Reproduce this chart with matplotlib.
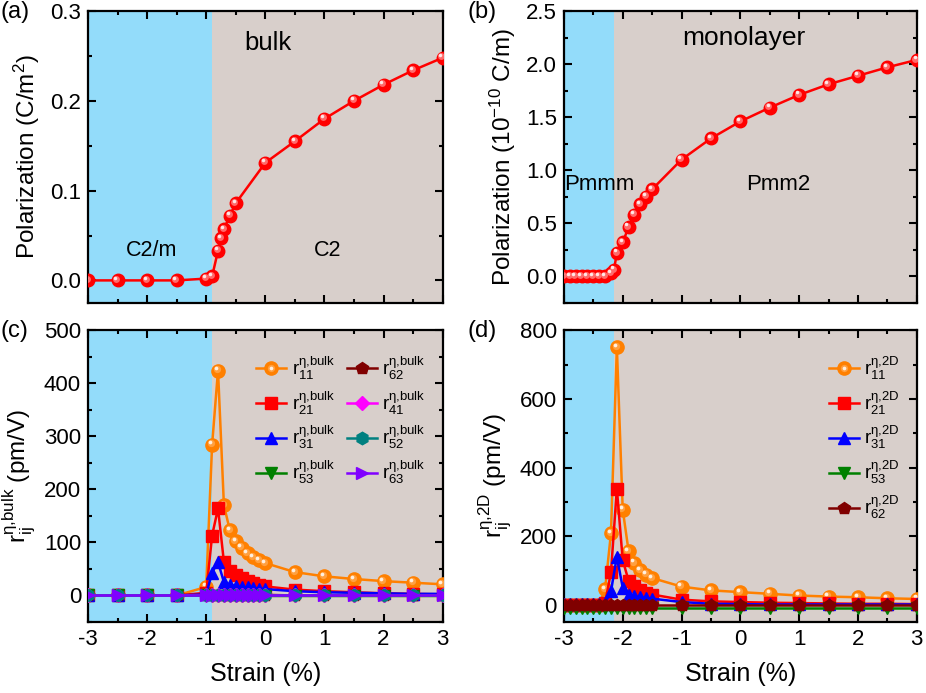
import numpy as np
from matplotlib import pyplot as plt
from matplotlib.transforms import offset_copy
from matplotlib.legend_handler import HandlerTuple
from matplotlib.ticker import MultipleLocator

plt.rcParams['font.family'] = ['Liberation Sans', 'DejaVu Sans']
plt.rcParams['mathtext.fontset'] = 'custom'
plt.rcParams['mathtext.rm'] = 'Liberation Sans'
plt.rcParams['mathtext.it'] = 'Liberation Sans:italic'
plt.rcParams['mathtext.default'] = 'regular'
plt.rcParams['axes.unicode_minus'] = False

# (a) bulk polarization
xa = [-3, -2.5, -2, -1.5, -1, -0.9, -0.8, -0.75, -0.7, -0.6, -0.5, 0, 0.5, 1, 1.5, 2, 2.5, 3]
pa = [0, 0, 0, 0, 0.002, 0.0045, 0.033, 0.047, 0.057, 0.072, 0.086, 0.131, 0.155, 0.18, 0.2, 0.218, 0.234, 0.248]

# (b) monolayer polarization
xb = [-3, -2.9, -2.8, -2.7, -2.6, -2.5, -2.4, -2.3, -2.2, -2.15, -2.1, -2.0, -1.9, -1.8, -1.7, -1.6, -1.5,
      -1, -0.5, 0, 0.5, 1, 1.5, 2, 2.5, 3]
pb = [0, 0, 0, 0, 0, 0, 0, 0, 0.03, 0.06, 0.22, 0.32, 0.465, 0.58, 0.68, 0.75, 0.82,
      1.1, 1.3, 1.46, 1.59, 1.71, 1.81, 1.89, 1.97, 2.04]

# (c) bulk r coefficients
xc = [-3, -2.5, -2, -1.5, -1, -0.9, -0.8, -0.7, -0.6, -0.5, -0.4, -0.3, -0.2, -0.1, 0, 0.5, 1, 1.5, 2, 2.5, 3]
c11 = [0, 0, 0, 0, 16, 284, 424, 170, 123, 102, 90, 80, 72, 66, 61, 44, 36, 31, 27, 24, 21]
c21 = [0, 0, 0, 0, 5, 113, 164, 63, 47, 38, 32, 27, 23, 20, 17, 11, 8, 6, 4, 3, 2]
c31 = [0, 0, 0, 0, 2, 43, 63, 25, 20, 18, 16, 15, 14, 13, 12, 8, 6, 5, 4, 3, 3]
c53 = [0, 0, 0, 0, 0, -1, -1, -1, -1, -1, -1, -1, -1, -1, -1, -1, -1, -1, -1, -1, -1]
c62 = [0, 0, 0, 0, 0, 1, 1, 1, 1, 1, 1, 1, 1, 1, 1, 0, 0, 0, 0, 0, 0]
c41 = [0, 0, 0, 0, 0, 0, 0, 0, 0, 0, 0, 0, 0, 0, 0, 0, 0, 0, 0, 0, 0]
c52 = [0, 0, 0, 0, 0, 0, 0, 0, 0, 0, 0, 0, 0, 0, 0, 0, 0, 0, 0, 0, 0]
c63 = [0, 0, 0, 0, 0, 0, 0, 0, 0, 0, 0, 0, 0, 0, 0, 0, 0, 0, 0, 0, 0]

# (d) 2D r coefficients
xd = [-3, -2.9, -2.8, -2.7, -2.6, -2.5, -2.4, -2.3, -2.2, -2.1, -2.0, -1.9, -1.8, -1.7, -1.6, -1.5,
      -1, -0.5, 0, 0.5, 1, 1.5, 2, 2.5, 3]
d11 = [0, 0, 0, 0, 0, 0, 0, 46, 209, 750, 277, 156, 122, 101, 88, 78, 53, 42, 37, 32, 27, 24, 22, 19, 17]
d21 = [0, 0, 0, 0, 0, 0, 0, 5, 95, 338, 130, 70, 55, 42, 35, 30, 15, 10, 8, 6, 5, 4, 3, 3, 2]
d31 = [3, 3, 3, 3, 3, 3, 3, 5, 40, 140, 50, 30, 25, 22, 20, 18, 8, 3, 2, 1, 1, 1, 1, 1, 1]
d53 = [-8, -8, -8, -8, -8, -8, -8, -8, -8, -8, -8, -8, -8, -8, -8, -8, -8, -8, -8, -8, -8, -8, -8, -8, -8]
d62 = [0, 0, 0, 0, 0, 0, 0, 0, 0, 0, 0, 0, 0, 0, 0, 0, 0, 0, 0, 0, 0, 0, 0, 0, 0]

blue_bg = '#93DCFA'
gray_bg = '#D8CFCB'
fig = plt.figure(figsize=(9.26, 6.93), dpi=100)


def style(ax, ymaj, ymin, xlabels):
    ax.set_xlim(-3, 3)
    ax.xaxis.set_major_locator(MultipleLocator(1))
    ax.xaxis.set_minor_locator(MultipleLocator(0.5))
    ax.yaxis.set_major_locator(MultipleLocator(ymaj))
    ax.yaxis.set_minor_locator(MultipleLocator(ymin))
    ax.tick_params(which='both', direction='in', top=True, right=True, width=1.5, labelsize=16, pad=5)
    ax.tick_params(which='major', length=5.5)
    ax.tick_params(which='minor', length=3)
    for s in ax.spines.values():
        s.set_linewidth(1.6)
    if not xlabels:
        ax.tick_params(labelbottom=False)
    else:
        ax.set_xlabel('Strain (%)', fontsize=18, labelpad=9)


def bg(ax, xb_):
    ax.axvspan(-3, xb_, color=blue_bg, lw=0, zorder=0)
    ax.axvspan(xb_, 3, color=gray_bg, lw=0, zorder=0)


def ball(ax, x, y, color, mid, hl, ms=9, zorder=3):
    ln, = ax.plot(x, y, '-o', color=color, mec=color, ms=ms, lw=1.8, zorder=zorder)
    tr1 = offset_copy(ax.transData, fig=fig, x=-0.9, y=1.0, units='points')
    tr2 = offset_copy(ax.transData, fig=fig, x=-1.6, y=1.8, units='points')
    m, = ax.plot(x, y, 'o', color=mid, mec='none', ms=ms * 0.55, transform=tr1, zorder=zorder + 0.1)
    h, = ax.plot(x, y, 'o', color=hl, mec='none', ms=ms * 0.28, transform=tr2, zorder=zorder + 0.2)
    return (ln, m, h)


# (a)
ax1 = fig.add_axes((0.095, 0.563, 0.383, 0.421))
bg(ax1, -0.9)
ball(ax1, xa, pa, '#FF0000', '#FF6A6A', '#FFE6E6')
ax1.set_ylim(-0.025, 0.3)
style(ax1, 0.1, 0.05, False)
ax1.yaxis.set_major_formatter(plt.FormatStrFormatter('%.1f'))
ax1.set_ylabel('Polarization (C/m$^2$)', fontsize=17.5, labelpad=6)
ax1.text(0.04, 0.265, 'bulk', fontsize=18.5, ha='center', va='center')
ax1.text(-1.92, 0.0334, 'C2/m', fontsize=15.5, ha='center', va='center')
ax1.text(1.06, 0.0334, 'C2', fontsize=15.5, ha='center', va='center')

# (b)
ax2 = fig.add_axes((0.609, 0.563, 0.381, 0.421))
bg(ax2, -2.15)
ball(ax2, xb, pb, '#FF0000', '#FF6A6A', '#FFE6E6')
ax2.set_ylim(-0.25, 2.5)
style(ax2, 0.5, 0.25, False)
ax2.yaxis.set_major_formatter(plt.FormatStrFormatter('%.1f'))
ax2.set_ylabel('Polarization (10$^{-10}$ C/m)', fontsize=17.5, labelpad=6)
ax2.text(0.06, 2.245, 'monolayer', fontsize=19, ha='center', va='center')
ax2.text(-2.39, 0.865, 'Pmmm', fontsize=16, ha='center', va='center')
ax2.text(0.64, 0.865, 'Pmm2', fontsize=16, ha='center', va='center')

# (c)
ax3 = fig.add_axes((0.095, 0.1025, 0.383, 0.421))
bg(ax3, -0.9)
h11 = ball(ax3, xc, c11, '#FF8000', '#FFA040', '#FFF0E0', ms=9.5, zorder=3)
kw = dict(lw=1.8, zorder=4)
h21, = ax3.plot(xc, c21, '-s', color='#FF0000', ms=8, **kw)
h31, = ax3.plot(xc, c31, '-^', color='#0000FF', ms=9, **kw)
h53, = ax3.plot(xc, c53, '-v', color='#008000', ms=9, **kw)
h62, = ax3.plot(xc, c62, '-p', color='#800000', ms=9, **kw)
h41, = ax3.plot(xc, c41, '-D', color='#FF00FF', ms=7.5, **kw)
h52, = ax3.plot(xc, c52, '-h', color='#008080', ms=9, **kw)
h63, = ax3.plot(xc, c63, '->', color='#8000FF', ms=9, **kw)
ax3.set_ylim(-50, 500)
style(ax3, 100, 50, True)
ax3.set_ylabel(r'$r_{ij}^{\eta{,}bulk}$ (pm/V)', fontsize=17.5, labelpad=4)
lab = lambda s, t: r'$r^{\eta{,}%s}_{%s}$' % (t, s)
ax3.legend([h11, h21, h31, h53, h62, h41, h52, h63],
           [lab('11', 'bulk'), lab('21', 'bulk'), lab('31', 'bulk'), lab('53', 'bulk'),
            lab('62', 'bulk'), lab('41', 'bulk'), lab('52', 'bulk'), lab('63', 'bulk')],
           ncol=2, frameon=False, fontsize=13.5, loc='upper right', bbox_to_anchor=(1.0, 0.975),
           handlelength=1.6, handletextpad=0.3, columnspacing=0.6, labelspacing=0.4,
           handler_map={tuple: HandlerTuple(ndivide=1)})

# (d)
ax4 = fig.add_axes((0.609, 0.1025, 0.381, 0.421))
bg(ax4, -2.15)
g11 = ball(ax4, xd, d11, '#FF8000', '#FFA040', '#FFF0E0', ms=9.5, zorder=3)
g21, = ax4.plot(xd, d21, '-s', color='#FF0000', ms=8, **kw)
g31, = ax4.plot(xd, d31, '-^', color='#0000FF', ms=9, **kw)
g53, = ax4.plot(xd, d53, '-v', color='#008000', ms=9, **kw)
g62, = ax4.plot(xd, d62, '-p', color='#800000', ms=9, **kw)
ax4.set_ylim(-50, 800)
style(ax4, 200, 100, True)
ax4.set_ylabel(r'$r_{ij}^{\eta{,}2D}$ (pm/V)', fontsize=17.5, labelpad=4)
ax4.legend([g11, g21, g31, g53, g62],
           [lab('11', '2D'), lab('21', '2D'), lab('31', '2D'), lab('53', '2D'), lab('62', '2D')],
           frameon=False, fontsize=13.5, loc='upper right', bbox_to_anchor=(1.0, 0.975),
           handlelength=1.6, handletextpad=0.3, labelspacing=0.4,
           handler_map={tuple: HandlerTuple(ndivide=1)})

for lbl, x, y in [('(a)', 0.0, 0.982), ('(b)', 0.505, 0.982), ('(c)', 0.0, 0.522), ('(d)', 0.505, 0.522)]:
    fig.text(x, y, lbl, fontsize=17, ha='left', va='center')

plt.savefig('out.png', dpi=100)
